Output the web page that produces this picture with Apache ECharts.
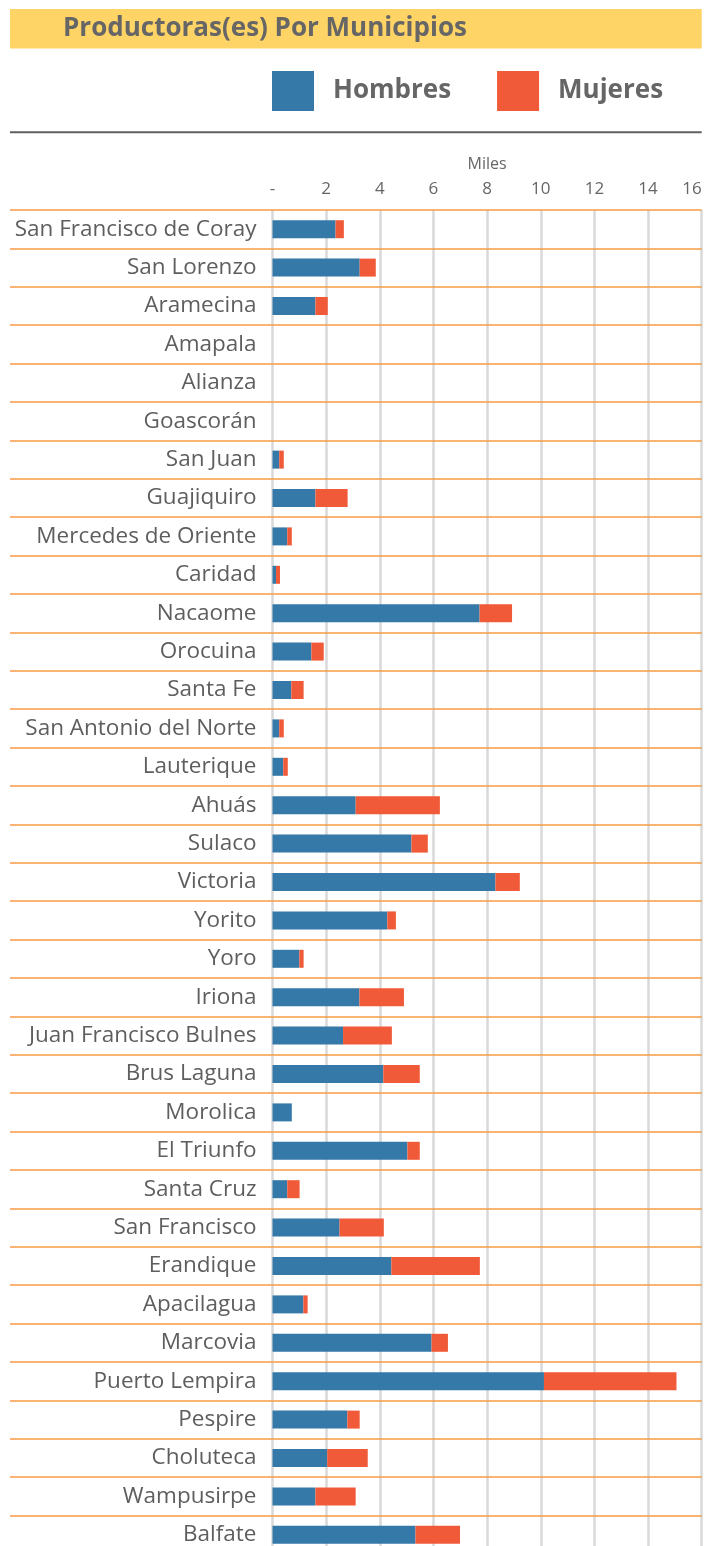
<!DOCTYPE html>
<html>
<head>
<meta charset="utf-8">
<title>Productoras(es) Por Municipios</title>
<script src="https://cdn.jsdelivr.net/npm/echarts@6/dist/echarts.min.js"></script>
<style>
    html, body { margin: 0; padding: 0; background: #fff; }
    #chart-show { width: 709px; height: 1546px; }
</style>
</head>
<body>
<div id="chart-show"></div>
<script>
// municipios, de arriba hacia abajo
var municipios = ['San Francisco de Coray', 'San Lorenzo', 'Aramecina', 'Amapala', 'Alianza',
    'Goascorán', 'San Juan', 'Guajiquiro', 'Mercedes de Oriente', 'Caridad', 'Nacaome',
    'Orocuina', 'Santa Fe', 'San Antonio del Norte', 'Lauterique', 'Ahuás', 'Sulaco',
    'Victoria', 'Yorito', 'Yoro', 'Iriona', 'Juan Francisco Bulnes', 'Brus Laguna',
    'Morolica', 'El Triunfo', 'Santa Cruz', 'San Francisco', 'Erandique', 'Apacilagua',
    'Marcovia', 'Puerto Lempira', 'Pespire', 'Choluteca', 'Wampusirpe', 'Balfate'];

// miles de productores
var hombres = [2.35, 3.25, 1.6, 0, 0, 0, 0.25, 1.6, 0.55, 0.13, 7.72,
    1.45, 0.7, 0.25, 0.4, 3.1, 5.18, 8.31, 4.28, 1.0, 3.24, 2.63, 4.13,
    0.72, 5.03, 0.55, 2.5, 4.43, 1.15, 5.93, 10.12, 2.79, 2.04, 1.6, 5.33];
var mujeres = [0.31, 0.6, 0.46, 0, 0, 0, 0.17, 1.2, 0.17, 0.15, 1.21,
    0.46, 0.46, 0.17, 0.17, 3.14, 0.61, 0.91, 0.32, 0.16, 1.66, 1.82, 1.36,
    0, 0.46, 0.46, 1.65, 3.3, 0.16, 0.61, 4.94, 0.46, 1.51, 1.5, 1.66];

var ticksX = { min: 0, max: 16, interval: 2 };

window.onload = all;
function all(){
    myBarChart();
}
function myBarChart(){
    var myChart = echarts.init(document.getElementById('chart-show'));

    var gris = '#666666';
    var fuente = 'Open Sans';
    var top = 210;
    var alto = 35 * 38.4;   // la ultima fila se sale un poco del lienzo

    var option = {
        animation: false,
        title: {
            text: 'Productoras(es) Por Municipios',
            left: 58,
            top: 11,
            textStyle: { fontFamily: fuente, fontWeight: 'bold', fontSize: 26, color: gris }
        },
        graphic: [
            {
                type: 'rect', z: -10,
                shape: { x: 10, y: 9, width: 691.7, height: 39.5 },
                style: { fill: '#FFD466' }
            },
            {
                type: 'line',
                shape: { x1: 10, y1: 132.3, x2: 701.7, y2: 132.3 },
                style: { stroke: '#5f5f5f', lineWidth: 2 }
            }
        ],
        legend: {
            left: 272,
            top: 71,
            padding: 0,
            itemWidth: 42,
            itemHeight: 40,
            itemGap: 46,
            icon: 'rect',
            textStyle: { fontFamily: fuente, fontWeight: 'bold', fontSize: 26, color: gris, padding: [0, 0, 0, 14] },
            data: ['Hombres', 'Mujeres']
        },
        grid: [
            // solo para las lineas naranjas que cruzan todo el ancho
            { left: 10, right: 7.3, top: top, height: alto, outerBoundsMode: 'none' },
            { left: 272.5, right: 7.3, top: top, height: alto, outerBoundsMode: 'none' }
        ],
        xAxis: [
            { type: 'value', gridIndex: 0, show: false, min: 0, max: 1 },
            {
                type: 'value',
                gridIndex: 1,
                position: 'top',
                min: ticksX.min,
                max: ticksX.max,
                interval: ticksX.interval,
                name: 'Miles',
                nameLocation: 'middle',
                nameGap: 38,
                nameTextStyle: { fontFamily: fuente, fontSize: 16, color: gris },
                axisLine: { show: false },
                axisTick: { show: false },
                axisLabel: {
                    margin: 12,
                    fontFamily: fuente,
                    fontSize: 17,
                    color: gris,
                    alignMaxLabel: 'right',
                    formatter: function (v) { return v === 0 ? '-' : v; }
                },
                splitLine: { show: true, lineStyle: { color: '#d9d9d9', width: 2.5 } }
            }
        ],
        yAxis: [
            {
                type: 'category',
                gridIndex: 0,
                inverse: true,
                z: 1,
                data: municipios,
                axisLine: { show: false },
                axisTick: { show: false },
                axisLabel: { show: false },
                splitLine: { show: true, lineStyle: { color: '#F79A45', width: 1.6 } }
            },
            {
                type: 'category',
                gridIndex: 1,
                inverse: true,
                data: municipios,
                axisLine: { show: false },
                axisTick: { show: false },
                axisLabel: { margin: 16, fontFamily: fuente, fontSize: 22.5, color: '#5e5e5e' }
            }
        ],
        series: [
            {
                name: 'Hombres',
                type: 'bar',
                stack: 'total',
                xAxisIndex: 1,
                yAxisIndex: 1,
                barWidth: 18,
                itemStyle: { color: '#3579A8' },
                data: hombres
            },
            {
                name: 'Mujeres',
                type: 'bar',
                stack: 'total',
                xAxisIndex: 1,
                yAxisIndex: 1,
                barWidth: 18,
                itemStyle: { color: '#F15A38' },
                data: mujeres
            }
        ]
    };
    myChart.setOption(option);
    setTimeout(function (){
        window.onresize = function () {
            myChart.resize();
        }
    },200);
}
</script>
</body>
</html>
